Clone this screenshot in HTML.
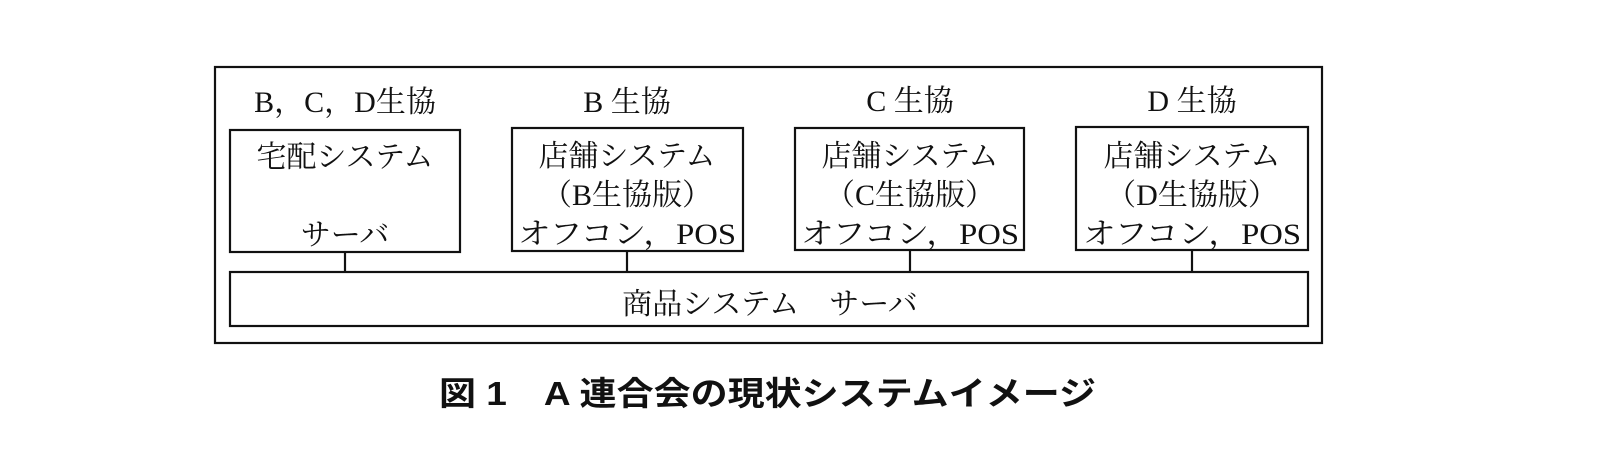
<!DOCTYPE html>
<html><head><meta charset="utf-8"><style>
html,body{margin:0;padding:0;background:#fff;}
svg{display:block;}
.t{font-family:"Liberation Serif","Noto Serif CJK JP","Noto Serif CJK SC",serif;font-size:30px;fill:#111;}
.c{font-family:"Liberation Sans","Noto Sans CJK JP",sans-serif;font-size:33px;font-weight:bold;fill:#111;}
</style></head><body>
<svg width="1606" height="452" viewBox="0 0 1606 452" xmlns="http://www.w3.org/2000/svg">
<g fill="none" stroke="#111" stroke-width="2.2">
<rect x="215" y="67" width="1107" height="276"/>
<rect x="230" y="130" width="230" height="122"/>
<rect x="512" y="128" width="231" height="123"/>
<rect x="795" y="128" width="229" height="122"/>
<rect x="1076" y="127" width="232" height="123"/>
<rect x="230" y="272" width="1078" height="54"/>
<line x1="345" y1="252" x2="345" y2="272"/>
<line x1="627" y1="251" x2="627" y2="272"/>
<line x1="910" y1="250" x2="910" y2="272"/>
<line x1="1192" y1="250" x2="1192" y2="272"/>
</g>
<g class="t" text-anchor="middle">
<text x="345" y="112">B，C，D生協</text>
<text x="627" y="112">B 生協</text>
<text x="910" y="111">C 生協</text>
<text x="1192" y="111">D 生協</text>
<text x="345" y="167">宅配システム</text>
<text x="345" y="245">サーバ</text>
<text x="627" y="166">店舗システム</text>
<text x="627" y="205">（B生協版）</text>
<text x="627" y="244" textLength="218" lengthAdjust="spacingAndGlyphs">オフコン，POS</text>
<text x="910" y="166">店舗システム</text>
<text x="910" y="205">（C生協版）</text>
<text x="910" y="244" textLength="218" lengthAdjust="spacingAndGlyphs">オフコン，POS</text>
<text x="1192" y="166">店舗システム</text>
<text x="1192" y="205">（D生協版）</text>
<text x="1192" y="244" textLength="218" lengthAdjust="spacingAndGlyphs">オフコン，POS</text>
<text x="770" y="314">商品システム　サーバ</text>
</g>
<text class="c" x="439" y="405" textLength="657" lengthAdjust="spacingAndGlyphs">図 1　A 連合会の現状システムイメージ</text>
</svg>
</body></html>
